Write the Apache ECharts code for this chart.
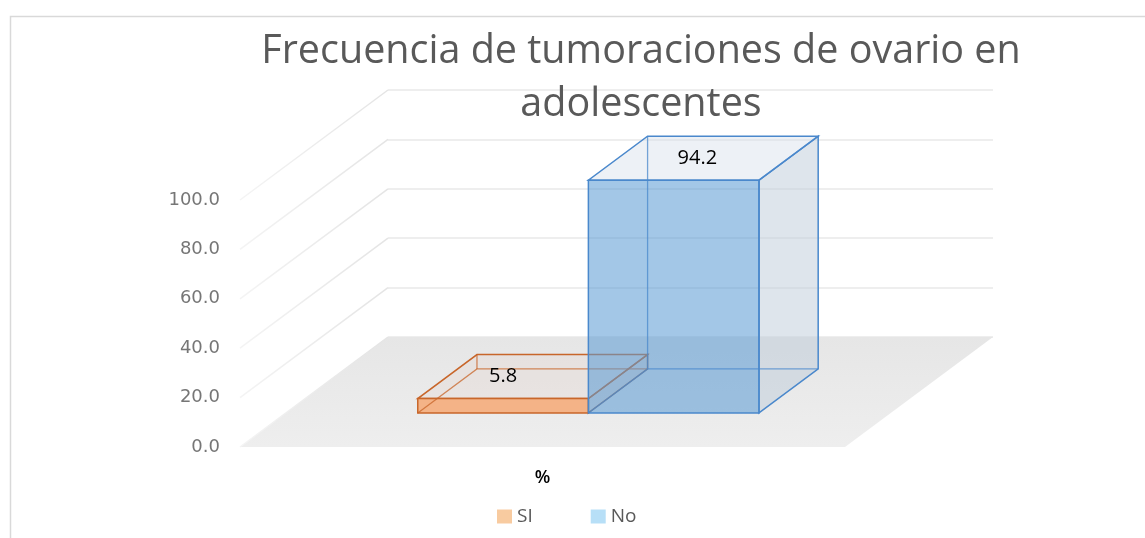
<!DOCTYPE html>
<html>
<head>
<meta charset="utf-8">
<script src="https://cdn.jsdelivr.net/npm/echarts@6/dist/echarts.min.js"></script>
<style>
  html, body { margin: 0; padding: 0; background: #fff; }
  #chart { width: 1145px; height: 538px; }
</style>
</head>
<body>
<div id="chart"></div>
<script>
// data
const categories = ['%'];
const siValues = [5.8];
const noValues = [94.2];
const yTicks = [0, 20, 40, 60, 80, 100];

// fake 3d: depth offset of the floor, bars sit between two depth fractions
const DEPTH = [148, -110];
const BAR_FRONT = 0.31;
const BAR_BACK = 0.71;
const BAR_FRAC = 0.282;

const palettes = {
  SI: {
    legend: '#f8cba0',
    edge: '#c8662a',
    front: 'rgba(244,177,131,0.97)',
    side: 'rgba(225,200,185,0.35)',
    top: 'rgba(228,212,204,0.3)',
    labelShift: 0
  },
  No: {
    legend: '#b7dff7',
    edge: '#4a88cc',
    front: 'rgba(91,155,213,0.56)',
    side: 'rgba(190,203,218,0.5)',
    top: 'rgba(214,224,236,0.45)',
    labelShift: 0.4
  }
};

function renderWalls(params, api) {
  const v = api.value(1);
  const p = api.coord([0, v]);
  const bw = api.size([1, 0])[0];
  const xl = p[0] - bw / 2;
  const children = [];
  if (v === 0) {
    children.push({
      type: 'polygon',
      shape: { points: [[xl, p[1]], [xl + bw, p[1]], [xl + bw + DEPTH[0], p[1] + DEPTH[1]], [xl + DEPTH[0], p[1] + DEPTH[1]]] },
      style: {
        fill: new echarts.graphic.LinearGradient(0, 0, 0, 1, [
          { offset: 0, color: '#e6e6e6' },
          { offset: 1, color: '#eeeeee' }
        ])
      }
    });
  }
  children.push({
    type: 'line',
    shape: { x1: xl, y1: p[1], x2: xl + DEPTH[0], y2: p[1] + DEPTH[1] },
    style: {
      stroke: new echarts.graphic.LinearGradient(0, 1, 1, 0, [
        { offset: 0, color: '#f4f4f4' },
        { offset: 1, color: '#e4e4e4' }
      ]),
      lineWidth: 1.5
    }
  });
  return { type: 'group', children: children };
}

function boxRenderer(name, idx) {
  const pal = palettes[name];
  return function (params, api) {
    const base = api.coord([api.value(0), 0]);
    const topP = api.coord([api.value(0), api.value(1)]);
    const bw = api.size([1, 0])[0] * BAR_FRAC;
    const fx = DEPTH[0] * BAR_FRONT, fy = DEPTH[1] * BAR_FRONT;
    const dx = DEPTH[0] * (BAR_BACK - BAR_FRONT), dy = DEPTH[1] * (BAR_BACK - BAR_FRONT);
    const x0 = base[0] + (idx - 1) * bw + fx;
    const x1 = x0 + bw;
    const yb = base[1] + fy;
    const yt = topP[1] + fy;
    // hidden edges show through the see-through box
    const hidden = { stroke: pal.edge, lineWidth: 1.3, fill: null, opacity: 0.75 };
    return {
      type: 'group',
      children: [
        {
          type: 'polygon',
          shape: { points: [[x1, yb], [x1 + dx, yb + dy], [x1 + dx, yt + dy], [x1, yt]] },
          style: { fill: pal.side, stroke: pal.edge, lineWidth: 1.5 }
        },
        {
          type: 'polygon',
          shape: { points: [[x0, yt], [x1, yt], [x1 + dx, yt + dy], [x0 + dx, yt + dy]] },
          style: { fill: pal.top, stroke: pal.edge, lineWidth: 1.5 }
        },
        {
          type: 'rect',
          shape: { x: x0, y: yt, width: bw, height: yb - yt },
          style: { fill: pal.front, stroke: pal.edge, lineWidth: 1.5 }
        },
        { type: 'polyline', shape: { points: [[x0, yb], [x0 + dx, yb + dy], [x1 + dx, yb + dy]] }, style: hidden },
        { type: 'line', shape: { x1: x0 + dx, y1: yb + dy, x2: x0 + dx, y2: yt + dy }, style: hidden },
        {
          type: 'text',
          style: {
            text: api.value(1).toFixed(1),
            x: (x0 + x1) / 2 + dx * pal.labelShift,
            y: yt + dy / 2,
            align: 'center',
            verticalAlign: 'middle',
            fill: '#000',
            font: '20px "Open Sans"'
          }
        }
      ]
    };
  };
}

const chart = echarts.init(document.getElementById('chart'));

chart.setOption({
  animation: false,
  title: {
    text: 'Frecuencia de tumoraciones de ovario en\nadolescentes',
    left: 636,
    top: 20,
    textAlign: 'center',
    textStyle: {
      fontFamily: 'Open Sans',
      fontWeight: 400,
      fontSize: 39.5,
      lineHeight: 53,
      color: '#595959'
    }
  },
  graphic: [{
    type: 'rect',
    left: 8, top: 14,
    shape: { width: 1160, height: 560 },
    style: { fill: null, stroke: '#d9d9d9', lineWidth: 1.5 },
    silent: true
  }],
  legend: {
    left: 492,
    top: 502,
    itemWidth: 15,
    itemHeight: 14,
    itemGap: 58,
    icon: 'rect',
    textStyle: { fontFamily: 'Open Sans', fontSize: 19, color: '#595959' },
    data: [
      { name: 'SI', itemStyle: { color: palettes.SI.legend } },
      { name: 'No', itemStyle: { color: palettes.No.legend } }
    ]
  },
  grid: [
    { left: 240, top: 200, width: 605, height: 247 },
    { left: 388, top: 90, width: 605, height: 247 }
  ],
  xAxis: [
    {
      type: 'category', gridIndex: 0, data: categories,
      axisLine: { show: false }, axisTick: { show: false },
      axisLabel: { margin: 22, fontFamily: 'Open Sans', fontSize: 18, fontWeight: 600, color: '#000' }
    },
    { type: 'category', gridIndex: 1, data: categories, show: false }
  ],
  yAxis: [
    {
      type: 'value', gridIndex: 0, min: 0, max: 100, interval: 20,
      axisLine: { show: false }, axisTick: { show: false }, splitLine: { show: false },
      axisLabel: {
        margin: 20, fontFamily: 'DejaVu Sans', fontSize: 18, color: '#767676',
        formatter: function (v) { return v.toFixed(1); }
      }
    },
    {
      type: 'value', gridIndex: 1, min: 0, max: 100, interval: 20,
      axisLine: { show: false }, axisTick: { show: false }, axisLabel: { show: false },
      splitLine: { lineStyle: { color: '#e8e8e8', width: 1.5 } }
    }
  ],
  series: [
    {
      type: 'custom', name: 'walls', xAxisIndex: 0, yAxisIndex: 0, silent: true, z: 1,
      renderItem: renderWalls,
      data: yTicks.map(function (t) { return [0, t]; })
    },
    {
      type: 'custom', name: 'SI', xAxisIndex: 0, yAxisIndex: 0, z: 3,
      itemStyle: { color: palettes.SI.legend },
      renderItem: boxRenderer('SI', 0),
      data: siValues.map(function (v, i) { return [i, v]; })
    },
    {
      type: 'custom', name: 'No', xAxisIndex: 0, yAxisIndex: 0, z: 4,
      itemStyle: { color: palettes.No.legend },
      renderItem: boxRenderer('No', 1),
      data: noValues.map(function (v, i) { return [i, v]; })
    }
  ]
});
</script>
</body>
</html>
